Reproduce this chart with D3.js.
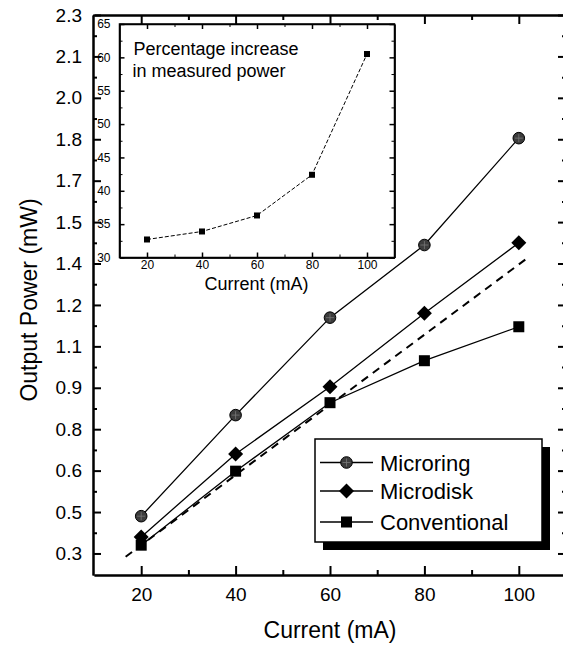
<!DOCTYPE html>
<html>
<head>
<meta charset="utf-8">
<script src="https://cdn.jsdelivr.net/npm/d3@7"></script>
<style>
  body { margin: 0; background: #fff; }
  text { font-family: "Liberation Sans", Arial, sans-serif; fill: #000; }
</style>
</head>
<body>
<svg id="chart" width="563" height="648"></svg>
<script>
// data
const current = [20, 40, 60, 80, 100];
const microring = [0.435, 0.801, 1.154, 1.417, 1.804];
const microdisk = [0.36, 0.66, 0.904, 1.17, 1.425];
const conventional = [0.33, 0.598, 0.846, 0.998, 1.121];
// dashed linear guide (ends)
const guideX = [16.7, 102];
const guideY = [0.288, 1.372];
// inset: percentage increase
const insetPct = [32.7, 33.9, 36.3, 42.4, 60.5];

// tick values and labels
const xTicks = [20, 40, 60, 80, 100];
const xMinor = [30, 50, 70, 90];
const yTicks = [0.3, 0.45, 0.6, 0.75, 0.9, 1.05, 1.2, 1.35, 1.5, 1.65, 1.8, 1.95, 2.1, 2.25];
const yTickLabels = ["0.3", "0.5", "0.6", "0.8", "0.9", "1.1", "1.2", "1.4", "1.5", "1.7", "1.8", "2.0", "2.1", "2.3"];
const yMinor = yTicks.map(v => v + 0.075).slice(0, -1);
const insetYTicks = [30, 35, 40, 45, 50, 55, 60, 65];
const insetYMinor = [32.5, 37.5, 42.5, 47.5, 52.5, 57.5, 62.5];

const svg = d3.select("#chart");
svg.append("rect").attr("width", 563).attr("height", 648).attr("fill", "#fff");

// main scales
const mLeft = 94, mRight = 566, mTop = 15, mBottom = 575;
const x = d3.scaleLinear().domain([10, 110]).range([mLeft, mRight]);
const y = d3.scaleLinear().domain([0.222, 2.25]).range([mBottom, mTop]);

function styleAxis(g, w) {
  g.select(".domain").attr("stroke", "#000").attr("stroke-width", w);
  g.selectAll(".tick line").attr("stroke", "#000").attr("stroke-width", w);
  return g;
}

// bottom axis
let gx = svg.append("g").attr("transform", `translate(0,${mBottom})`)
  .call(d3.axisBottom(x).tickValues(xTicks).tickSize(-9).tickSizeOuter(0).tickPadding(12.5));
gx.selectAll("text").attr("font-size", 19);
styleAxis(gx, 2);
styleAxis(svg.append("g").attr("transform", `translate(0,${mBottom})`)
  .call(d3.axisBottom(x).tickValues(xMinor).tickSize(-5).tickSizeOuter(0).tickFormat("")), 2);

// top axis
styleAxis(svg.append("g").attr("transform", `translate(0,${mTop})`)
  .call(d3.axisTop(x).tickValues(xTicks).tickSize(-9).tickSizeOuter(0).tickFormat("")), 2);
styleAxis(svg.append("g").attr("transform", `translate(0,${mTop})`)
  .call(d3.axisTop(x).tickValues(xMinor).tickSize(-5).tickSizeOuter(0).tickFormat("")), 2);

// left axis
let gy = svg.append("g").attr("transform", `translate(${mLeft - 1},0)`)
  .call(d3.axisLeft(y).tickValues(yTicks).tickSize(-8).tickSizeOuter(0).tickPadding(11)
    .tickFormat((d, i) => yTickLabels[i]));
gy.selectAll("text").attr("font-size", 19);
styleAxis(gy, 2);
styleAxis(svg.append("g").attr("transform", `translate(${mLeft - 1},0)`)
  .call(d3.axisLeft(y).tickValues(yMinor).tickSize(-4).tickSizeOuter(0).tickFormat("")), 2);

// right axis
styleAxis(svg.append("g").attr("transform", `translate(${mRight},0)`)
  .call(d3.axisRight(y).tickValues(yTicks).tickSize(-8).tickSizeOuter(0).tickFormat("")), 2);
styleAxis(svg.append("g").attr("transform", `translate(${mRight},0)`)
  .call(d3.axisRight(y).tickValues(yMinor).tickSize(-4).tickSizeOuter(0).tickFormat("")), 2);

// axis titles
svg.append("text")
  .attr("x", 330).attr("y", 638)
  .attr("text-anchor", "middle").attr("font-size", 23)
  .text("Current (mA)");
svg.append("text")
  .attr("transform", "rotate(-90)")
  .attr("x", -300).attr("y", 37)
  .attr("text-anchor", "middle").attr("font-size", 23)
  .text("Output Power (mW)");

// dashed guide line
svg.append("line")
  .attr("x1", x(guideX[0])).attr("y1", y(guideY[0]))
  .attr("x2", x(guideX[1])).attr("y2", y(guideY[1]))
  .attr("stroke", "#000").attr("stroke-width", 2)
  .attr("stroke-dasharray", "8,6");

const line = d3.line().x(d => x(d[0])).y(d => y(d[1]));
const series = [
  { name: "Microring", values: microring, shape: "circle" },
  { name: "Microdisk", values: microdisk, shape: "diamond" },
  { name: "Conventional", values: conventional, shape: "square" }
];

function drawMarker(g, shape, cx, cy) {
  if (shape == "circle") {
    g.append("circle").attr("cx", cx).attr("cy", cy).attr("r", 5.8)
      .attr("fill", "#3c3c3c").attr("stroke", "#000").attr("stroke-width", 1);
    g.append("line").attr("x1", cx - 4).attr("x2", cx + 4).attr("y1", cy).attr("y2", cy)
      .attr("stroke", "#777").attr("stroke-width", 0.8);
    g.append("line").attr("x1", cx).attr("x2", cx).attr("y1", cy - 4).attr("y2", cy + 4)
      .attr("stroke", "#777").attr("stroke-width", 0.8);
  } else if (shape == "diamond") {
    g.append("path")
      .attr("d", `M${cx},${cy - 7.5}L${cx + 7.5},${cy}L${cx},${cy + 7.5}L${cx - 7.5},${cy}Z`)
      .attr("fill", "#000");
  } else {
    g.append("rect").attr("x", cx - 5.5).attr("y", cy - 5.5)
      .attr("width", 11).attr("height", 11).attr("fill", "#000");
  }
}

series.forEach(s => {
  const pts = current.map((c, i) => [c, s.values[i]]);
  svg.append("path").datum(pts)
    .attr("d", line)
    .attr("fill", "none").attr("stroke", "#000").attr("stroke-width", 1.3);
  const g = svg.append("g");
  pts.forEach(p => drawMarker(g, s.shape, x(p[0]), y(p[1])));
});

// legend with drop shadow
const lg = svg.append("g");
lg.append("rect").attr("x", 323).attr("y", 447).attr("width", 227).attr("height", 103).attr("fill", "#000");
lg.append("rect").attr("x", 315).attr("y", 439).attr("width", 227).attr("height", 103)
  .attr("fill", "#fff").attr("stroke", "#000").attr("stroke-width", 1.5);
const legendRows = [462.5, 491, 522];
series.forEach((s, i) => {
  const ly = legendRows[i];
  lg.append("line").attr("x1", 320).attr("x2", 373).attr("y1", ly).attr("y2", ly)
    .attr("stroke", "#000").attr("stroke-width", 1.3);
  drawMarker(lg, s.shape, 346.5, ly);
  lg.append("text").attr("x", 380).attr("y", ly + 8)
    .attr("font-size", 22).text(s.name);
});

// inset
const il = 119.5, ir = 394.5, itop = 24, ibot = 257.5;
const ix = d3.scaleLinear().domain([10, 110]).range([il, ir]);
const iy = d3.scaleLinear().domain([30, 65]).range([ibot, itop]);
svg.append("rect").attr("x", il).attr("y", itop).attr("width", ir - il).attr("height", ibot - itop)
  .attr("fill", "#fff").attr("stroke", "#000").attr("stroke-width", 1.5);

let ixa = svg.append("g").attr("transform", `translate(0,${ibot})`)
  .call(d3.axisBottom(ix).tickValues(xTicks).tickSize(-5).tickSizeOuter(0).tickPadding(3));
ixa.selectAll("text").attr("font-size", 12);
styleAxis(ixa, 1.5);
styleAxis(svg.append("g").attr("transform", `translate(0,${ibot})`)
  .call(d3.axisBottom(ix).tickValues(xMinor).tickSize(-3).tickSizeOuter(0).tickFormat("")), 1);
styleAxis(svg.append("g").attr("transform", `translate(0,${itop})`)
  .call(d3.axisTop(ix).tickValues(xTicks).tickSize(-5).tickSizeOuter(0).tickFormat("")), 1.5);
styleAxis(svg.append("g").attr("transform", `translate(0,${itop})`)
  .call(d3.axisTop(ix).tickValues(xMinor).tickSize(-3).tickSizeOuter(0).tickFormat("")), 1);

let iya = svg.append("g").attr("transform", `translate(${il},0)`)
  .call(d3.axisLeft(iy).tickValues(insetYTicks).tickSize(-5).tickSizeOuter(0).tickPadding(9));
iya.selectAll("text").attr("font-size", 12);
styleAxis(iya, 1.5);
styleAxis(svg.append("g").attr("transform", `translate(${il},0)`)
  .call(d3.axisLeft(iy).tickValues(insetYMinor).tickSize(-3).tickSizeOuter(0).tickFormat("")), 1);
styleAxis(svg.append("g").attr("transform", `translate(${ir},0)`)
  .call(d3.axisRight(iy).tickValues(insetYTicks).tickSize(-5).tickSizeOuter(0).tickFormat("")), 1.5);
styleAxis(svg.append("g").attr("transform", `translate(${ir},0)`)
  .call(d3.axisRight(iy).tickValues(insetYMinor).tickSize(-3).tickSizeOuter(0).tickFormat("")), 1);

svg.append("text").attr("x", 256.5).attr("y", 289.5)
  .attr("text-anchor", "middle").attr("font-size", 18).text("Current (mA)");
svg.append("text").attr("x", 133.5).attr("y", 55).attr("font-size", 18).text("Percentage increase");
svg.append("text").attr("x", 132.5).attr("y", 77).attr("font-size", 18).text("in measured power");

const insetPts = current.map((c, i) => [c, insetPct[i]]);
svg.append("path").datum(insetPts)
  .attr("d", d3.line().x(d => ix(d[0])).y(d => iy(d[1])))
  .attr("fill", "none").attr("stroke", "#000").attr("stroke-width", 1)
  .attr("stroke-dasharray", "4,2");
svg.append("g").selectAll("rect").data(insetPts).enter().append("rect")
  .attr("x", d => ix(d[0]) - 3).attr("y", d => iy(d[1]) - 3)
  .attr("width", 6).attr("height", 6).attr("fill", "#000");
</script>
</body>
</html>
